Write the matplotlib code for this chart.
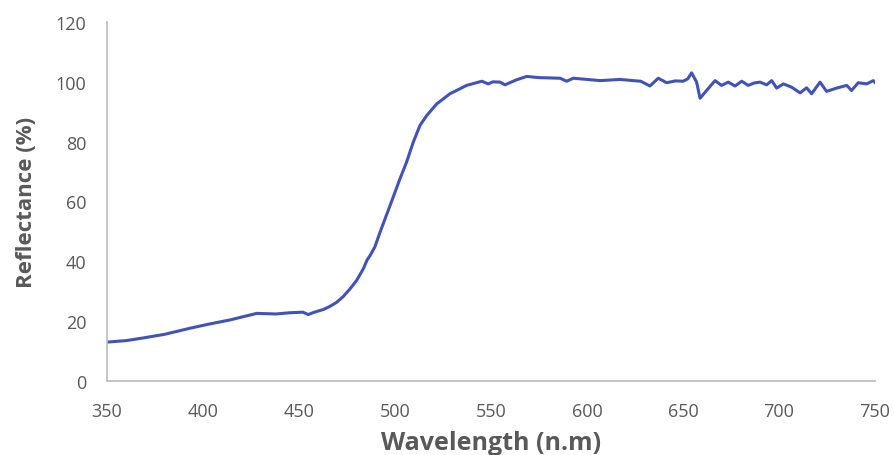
import matplotlib
matplotlib.use('Agg')
import matplotlib.pyplot as plt

# reflectance spectrum, values in %
wavelength = [350, 360, 369, 380, 393, 403, 414, 421, 428, 438, 445, 452, 454.8,
              458, 462.7, 466, 469.6, 473, 476.6, 480, 483.5, 485.5, 487, 489.5,
              492.2, 497.4, 502.6, 506, 509.5, 513, 516.5, 521.7, 528.6, 537.3,
              545.2, 548.6, 551, 554.7, 557.3, 563.4, 568.6, 575, 580.7, 586,
              589.4, 592.9, 600, 606.8, 612, 617.2, 624.1, 628, 632.8, 637.1,
              641.5, 646, 650.1, 652.5, 654.5, 657.1, 658.9, 662.3, 666.7, 670.1,
              673.6, 677.1, 680.6, 684, 687, 690.1, 693.6, 696.2, 698.8, 702.3,
              706.6, 711, 714.4, 717, 721.4, 724.8, 730, 735.3, 737.8, 741.3,
              745.7, 749.1, 750]
reflectance = [13.0, 13.5, 14.4, 15.6, 17.6, 19.0, 20.4, 21.5, 22.6, 22.4, 22.8, 23.0, 22.2,
               23.0, 23.9, 24.9, 26.3, 28.2, 30.8, 33.6, 37.5, 40.5, 41.9, 44.8,
               49.7, 58.6, 67.6, 73.1, 79.8, 85.4, 88.7, 92.6, 96.0, 98.8,
               100.2, 99.3, 100.0, 99.9, 99.0, 100.7, 101.8, 101.4, 101.3, 101.2,
               100.2, 101.2, 100.8, 100.4, 100.6, 100.8, 100.4, 100.2, 98.6, 101.2,
               99.7, 100.3, 100.2, 101.0, 103.0, 99.9, 94.5, 97.1, 100.4, 98.8,
               99.9, 98.6, 100.2, 98.8, 99.6, 99.9, 99.0, 100.4, 97.9, 99.3,
               98.2, 96.3, 98.0, 96.0, 99.9, 96.8, 97.9, 98.8, 97.1, 99.7,
               99.3, 100.4, 99.8]

gray = '#595959'

fig = plt.figure(figsize=(8.94, 4.56), dpi=100)
ax = fig.add_axes([0.1197, 0.1623, 0.859, 0.7873])

ax.plot(wavelength, reflectance, color='#4253B7', linewidth=2.2)

ax.set_xlim(350, 750)
ax.set_ylim(0, 120)
ax.set_xticks(range(350, 751, 50))
ax.set_yticks(range(0, 121, 20))

for side in ['top', 'right']:
    ax.spines[side].set_visible(False)
for side in ['left', 'bottom']:
    ax.spines[side].set_color('#BFBFBF')
    ax.spines[side].set_linewidth(1.3)

ax.tick_params(length=0, labelsize=13, labelcolor=gray, pad=15)
for lbl in ax.get_xticklabels() + ax.get_yticklabels():
    lbl.set_fontfamily('Open Sans')

ax.set_xlabel('Wavelength (n.m)', fontsize=18, fontweight='bold', color=gray,
              fontfamily='Open Sans', labelpad=7)
ax.set_ylabel('Reflectance (%)', fontsize=16, fontweight='bold', color=gray,
              fontfamily='Open Sans', labelpad=13)

fig.savefig('out.png', dpi=100)
